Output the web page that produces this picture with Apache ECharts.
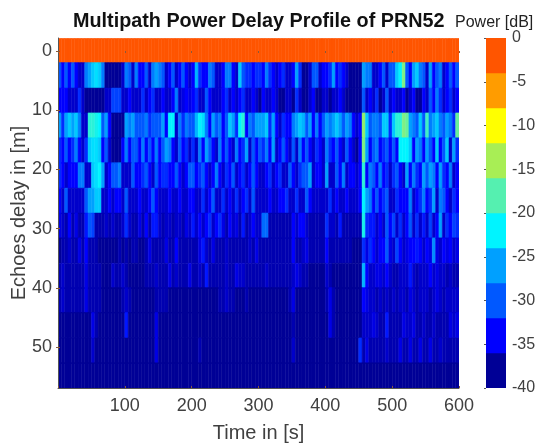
<!DOCTYPE html>
<html>
<head>
<meta charset="utf-8">
<script src="https://cdn.jsdelivr.net/npm/echarts@6/dist/echarts.min.js"></script>
<style>html,body{margin:0;padding:0;background:#fff}#c{width:540px;height:447px}</style>
</head>
<body>
<div id="c"></div>
<script>
// Column width of the profile, seconds; column centres start at half of it.
const stepSeconds = 5;
const rowSpanMetres = 4.3;
const rowDelays = [0,4.1,8.4,12.6,16.8,21,25.3,29.5,33.7,38,42.1,46.3,50.6,54.8];
const yTicks = [0,10,20,30,40,50];
const barTicks = [0,-5,-10,-15,-20,-25,-30,-35,-40];
const barBands = [-38,-34,-30,-26,-22,-18,-14,-10,-6,-2];
const bandColors = ['#000096','#0000ff','#0058ff','#00a0ff','#00f4ff','#55f0b0','#a8ee55','#ffff00','#ff9c00','#ff5500'];

const row0 = [
-2,-2,-2,-2,-2,-2,-2,-2,-2,-2,-2,-2,-2,-2,-2,-2,-2,-2,-2,-2,
-2,-2,-2,-2,-2,-2,-2,-2,-2,-2,-2,-2,-2,-2,-2,-2,-2,-2,-2,-2,
-2,-2,-2,-2,-2,-2,-2,-2,-2,-2,-2,-2,-2,-2,-2,-2,-2,-2,-2,-2,
-2,-2,-2,-2,-2,-2,-2,-2,-2,-2,-2,-2,-2,-2,-2,-2,-2,-2,-2,-2,
-2,-2,-2,-2,-2,-2,-2,-2,-2,-2,-2,-2,-2,-2,-2,-2,-2,-2,-2,-2,
-2,-2,-2,-2,-2,-2,-2,-2,-2,-2,-2,-2,-2,-2,-2,-2,-2,-2,-2,-2];
const row1 = [
-30,-34,-30,-34,-30,-34,-36,-36,-28,-26,-24,-23,-24,-28,-38,-38,-38,-38,-38,-36,
-28,-30,-36,-28,-34,-34,-30,-36,-28,-26,-28,-30,-36,-34,-30,-36,-34,-30,-34,-36,
-34,-25,-32,-34,-34,-28,-30,-36,-36,-34,-28,-28,-34,-36,-24,-30,-32,-32,-34,-32,
-32,-34,-28,-32,-34,-36,-34,-32,-36,-36,-34,-26,-32,-38,-38,-36,-30,-30,-36,-34,
-34,-32,-26,-34,-32,-34,-36,-38,-38,-38,-38,-26,-28,-28,-36,-36,-34,-30,-36,-30,
-30,-24,-22,-16,-30,-34,-26,-24,-28,-30,-36,-26,-34,-30,-28,-36,-34,-30,-34,-30];
const row2 = [
-34,-34,-34,-36,-36,-36,-32,-36,-38,-38,-38,-38,-38,-38,-36,-36,-31,-31,-31,-36,
-36,-34,-36,-36,-36,-32,-36,-34,-32,-36,-36,-34,-36,-36,-34,-28,-36,-35,-34,-35,
-34,-32,-36,-36,-30,-34,-36,-36,-36,-34,-32,-36,-34,-36,-34,-32,-36,-36,-34,-36,
-38,-34,-36,-36,-34,-36,-38,-38,-36,-36,-38,-32,-36,-38,-38,-36,-34,-38,-38,-36,
-36,-38,-36,-36,-34,-36,-38,-38,-38,-38,-38,-30,-36,-34,-36,-32,-38,-36,-30,-36,
-34,-36,-36,-34,-38,-36,-34,-38,-38,-34,-36,-30,-34,-28,-32,-36,-34,-32,-36,-34];
const row3 = [
-26,-32,-26,-24,-26,-24,-28,-36,-36,-20,-20,-21,-22,-30,-26,-34,-38,-38,-38,-38,
-26,-28,-26,-30,-30,-30,-28,-32,-30,-30,-30,-26,-34,-22,-22,-36,-28,-32,-28,-30,
-30,-25,-22,-23,-28,-34,-26,-30,-28,-34,-30,-24,-26,-32,-22,-20,-34,-28,-30,-26,
-26,-26,-24,-32,-26,-34,-36,-32,-34,-34,-28,-26,-24,-25,-30,-26,-34,-28,-34,-30,
-26,-28,-26,-24,-26,-30,-26,-28,-34,-36,-34,-15,-24,-30,-28,-28,-30,-24,-24,-32,
-24,-20,-20,-16,-17,-26,-28,-30,-24,-30,-19,-28,-26,-24,-28,-30,-26,-28,-32,-17];
const row4 = [
-32,-34,-30,-34,-32,-28,-34,-36,-32,-24,-23,-23,-24,-34,-30,-36,-38,-38,-38,-34,
-28,-34,-30,-30,-34,-28,-34,-30,-34,-28,-34,-30,-26,-28,-34,-36,-30,-34,-32,-36,
-32,-36,-28,-34,-26,-30,-34,-36,-28,-34,-30,-34,-36,-28,-34,-32,-26,-36,-30,-34,
-30,-32,-28,-34,-26,-36,-34,-30,-34,-36,-30,-36,-28,-34,-30,-34,-36,-32,-34,-36,
-28,-32,-34,-30,-34,-36,-30,-34,-36,-38,-34,-16,-26,-34,-30,-28,-34,-32,-30,-34,
-30,-34,-22,-22,-22,-24,-34,-26,-28,-34,-26,-30,-34,-24,-34,-30,-24,-36,-26,-32];
const row5 = [
-32,-34,-36,-34,-34,-34,-28,-28,-36,-36,-24,-23,-22,-26,-36,-34,-30,-30,-28,-36,
-36,-36,-30,-34,-34,-32,-30,-34,-36,-30,-34,-32,-32,-34,-34,-30,-34,-36,-34,-30,
-30,-34,-32,-30,-34,-36,-34,-28,-34,-36,-32,-34,-30,-36,-34,-32,-36,-34,-30,-34,
-36,-36,-34,-32,-36,-34,-32,-36,-36,-30,-34,-36,-32,-30,-30,-26,-36,-34,-34,-36,
-26,-36,-36,-30,-34,-28,-36,-34,-34,-36,-34,-20,-34,-28,-30,-34,-28,-34,-32,-36,
-32,-30,-34,-36,-26,-34,-28,-32,-34,-26,-30,-26,-28,-34,-26,-32,-34,-28,-36,-34];
const row6 = [
-34,-36,-30,-36,-36,-36,-36,-36,-30,-26,-26,-24,-24,-36,-36,-34,-36,-34,-34,-36,
-30,-36,-36,-36,-34,-36,-36,-34,-30,-34,-36,-36,-36,-34,-36,-36,-34,-36,-36,-34,
-34,-36,-36,-32,-36,-34,-30,-36,-36,-32,-36,-34,-36,-32,-36,-34,-32,-36,-30,-36,
-36,-36,-36,-34,-36,-36,-34,-34,-32,-36,-36,-32,-36,-36,-30,-34,-36,-36,-36,-36,
-36,-32,-36,-34,-36,-36,-34,-36,-36,-36,-34,-22,-26,-28,-34,-30,-34,-32,-30,-36,
-36,-32,-34,-34,-34,-28,-36,-34,-32,-28,-34,-32,-26,-36,-28,-30,-34,-36,-32,-34];
const row7 = [
-35,-36,-37,-34,-37,-35,-37,-37,-33,-30,-31,-37,-37,-37,-36,-37,-36,-37,-37,-36,
-32,-36,-37,-37,-35,-37,-34,-37,-33,-33,-36,-37,-36,-36,-37,-36,-36,-37,-35,-36,
-33,-36,-34,-36,-34,-32,-36,-34,-32,-35,-37,-34,-36,-35,-37,-33,-37,-36,-34,-36,
-36,-29,-29,-37,-37,-37,-37,-37,-37,-37,-34,-36,-34,-34,-36,-37,-37,-37,-37,-37,
-32,-36,-36,-37,-33,-37,-37,-37,-37,-37,-37,-21,-32,-33,-33,-36,-34,-36,-30,-34,
-31,-36,-32,-36,-34,-30,-36,-32,-36,-33,-36,-31,-36,-34,-26,-36,-32,-34,-31,-32];
const row8 = [
-38,-37,-37,-36,-37,-37,-35,-37,-34,-37,-37,-37,-38,-38,-38,-38,-38,-38,-37,-38,
-37,-38,-37,-37,-38,-38,-37,-35,-37,-37,-37,-37,-35,-37,-37,-34,-37,-37,-37,-37,
-37,-37,-35,-33,-36,-37,-35,-37,-37,-37,-36,-37,-37,-37,-37,-37,-37,-36,-37,-35,
-37,-37,-37,-37,-37,-37,-37,-37,-37,-37,-34,-37,-37,-36,-35,-37,-37,-37,-37,-37,
-34,-37,-37,-37,-37,-37,-37,-37,-38,-38,-38,-32,-35,-32,-34,-36,-34,-34,-30,-35,
-36,-31,-34,-36,-35,-34,-34,-33,-34,-36,-34,-35,-27,-35,-36,-34,-35,-34,-36,-35];
const row9 = [
-37,-36,-37,-37,-37,-37,-37,-37,-35,-37,-37,-37,-37,-38,-38,-38,-36,-37,-37,-36,
-37,-38,-38,-38,-38,-38,-37,-37,-37,-36,-37,-37,-37,-35,-37,-36,-37,-37,-37,-35,
-37,-37,-36,-37,-33,-37,-37,-37,-37,-37,-36,-37,-37,-35,-36,-36,-37,-37,-37,-37,
-37,-37,-36,-37,-37,-37,-37,-37,-37,-37,-36,-35,-36,-37,-37,-38,-38,-38,-38,-38,
-36,-37,-38,-38,-38,-38,-38,-38,-38,-38,-38,-25,-34,-36,-36,-35,-35,-36,-34,-36,
-37,-37,-36,-36,-36,-33,-36,-37,-36,-36,-36,-34,-36,-35,-36,-36,-37,-36,-37,-37];
const row10 = [
-37,-36,-37,-37,-37,-37,-37,-37,-35,-37,-37,-37,-37,-38,-38,-38,-38,-38,-38,-37,
-36,-37,-38,-38,-38,-38,-38,-38,-38,-37,-37,-37,-37,-38,-38,-38,-38,-38,-38,-38,
-38,-38,-38,-38,-38,-38,-38,-38,-37,-37,-36,-37,-37,-38,-38,-38,-37,-38,-38,-38,
-38,-38,-38,-38,-38,-38,-38,-38,-38,-37,-35,-38,-38,-38,-38,-38,-38,-38,-38,-38,
-37,-35,-37,-38,-38,-38,-38,-38,-38,-38,-38,-34,-35,-36,-36,-37,-36,-37,-36,-37,
-36,-37,-36,-36,-37,-35,-36,-37,-36,-36,-36,-37,-36,-35,-36,-37,-36,-36,-36,-36];
const row11 = [
-38,-38,-38,-38,-38,-38,-38,-38,-38,-38,-35,-37,-38,-38,-38,-38,-38,-38,-38,-38,
-33,-38,-38,-38,-38,-38,-38,-38,-38,-35,-38,-38,-38,-38,-38,-38,-38,-38,-38,-38,
-38,-38,-38,-38,-38,-38,-38,-38,-38,-38,-38,-38,-38,-38,-38,-38,-38,-38,-38,-38,
-38,-38,-38,-38,-38,-38,-38,-38,-38,-38,-37,-38,-38,-38,-38,-38,-38,-38,-38,-38,
-38,-35,-37,-38,-38,-38,-38,-38,-38,-38,-38,-36,-36,-36,-35,-36,-37,-37,-33,-37,
-37,-37,-37,-35,-36,-36,-35,-37,-37,-36,-37,-37,-36,-37,-37,-37,-37,-35,-36,-35];
const row12 = [
-38,-38,-38,-38,-38,-38,-38,-38,-38,-38,-36,-38,-38,-38,-38,-38,-38,-38,-38,-38,
-38,-38,-38,-38,-38,-38,-38,-38,-38,-35,-38,-38,-38,-38,-38,-38,-38,-38,-38,-38,
-38,-38,-37,-38,-38,-38,-38,-38,-38,-38,-38,-38,-38,-38,-38,-38,-38,-38,-38,-38,
-38,-38,-38,-38,-38,-38,-38,-38,-38,-38,-36,-38,-38,-38,-38,-38,-38,-38,-38,-38,
-38,-38,-38,-38,-38,-38,-38,-38,-38,-38,-32,-37,-35,-37,-37,-37,-37,-37,-36,-37,
-37,-37,-35,-37,-37,-35,-37,-37,-35,-37,-37,-35,-37,-37,-36,-37,-37,-37,-37,-37];
const row13 = [
-38,-38,-38,-38,-38,-38,-38,-38,-38,-38,-38,-38,-38,-38,-38,-38,-38,-38,-38,-38,
-38,-38,-38,-38,-38,-38,-38,-38,-38,-38,-38,-38,-38,-38,-38,-38,-38,-38,-38,-38,
-38,-38,-38,-38,-38,-38,-38,-38,-38,-38,-38,-38,-38,-38,-38,-38,-38,-38,-38,-38,
-38,-38,-38,-38,-38,-38,-38,-38,-38,-38,-38,-38,-38,-38,-38,-38,-38,-38,-38,-38,
-38,-38,-38,-38,-38,-38,-38,-38,-38,-38,-38,-38,-38,-38,-38,-38,-38,-38,-38,-38,
-38,-38,-38,-38,-38,-38,-38,-38,-38,-38,-38,-38,-38,-38,-38,-38,-38,-38,-38,-38];

const rows = [row0,row1,row2,row3,row4,row5,row6,row7,row8,row9,row10,row11,row12,row13];
const cells = [];
rows.forEach((r, ri) => r.forEach((p, ci) => cells.push([(ci + 0.5) * stepSeconds, rowDelays[ri], p])));
const barCells = barBands.map(b => [0.5, b, b]);

const labelColor = '#404040', lineColor = '#555';
const font = '"Liberation Sans", Arial, sans-serif';
const innerTick = { show: true, inside: true, length: 2, lineStyle: { color: '#8a5a3a', width: 1 } };

function cellRenderer(w, h) {
  return function (params, api) {
    const c = api.coord([api.value(0), api.value(1)]);
    const s = api.size([w, h]);
    const col = api.visual('color');
    return { type: 'rect', shape: { x: c[0] - s[0] / 2, y: c[1] - s[1] / 2, width: s[0], height: s[1] },
      style: { fill: col, stroke: col, lineWidth: 0.5 } };
  };
}

const chart = echarts.init(document.getElementById('c'), null, { renderer: 'canvas' });
chart.setOption({
  animation: false,
  backgroundColor: '#fff',
  title: [
    { text: 'Multipath Power Delay Profile of PRN52', left: 68, top: 7,
      textStyle: { fontFamily: font, fontSize: 19.8, fontWeight: 'bold', color: '#111' } },
    { text: 'Power [dB]', left: 450, top: 10,
      textStyle: { fontFamily: font, fontSize: 16, fontWeight: 'normal', color: '#222' } }
  ],
  grid: [
    { left: 58, top: 38, width: 401, height: 350, outerBoundsMode: 'none' },
    { left: 486, top: 38, width: 20, height: 350, outerBoundsMode: 'none' }
  ],
  visualMap: { type: 'continuous', show: false, min: -38, max: -2, dimension: 2, seriesIndex: [0, 1],
    inRange: { color: bandColors } },
  xAxis: [
    { gridIndex: 0, type: 'value', min: 0, max: 600, interval: 100, position: 'bottom', z: 5,
      name: 'Time in [s]', nameLocation: 'middle', nameGap: 35,
      nameTextStyle: { fontFamily: font, fontSize: 20, color: labelColor },
      axisLine: { show: true, onZero: false, lineStyle: { color: lineColor, width: 1 } },
      axisTick: innerTick,
      splitLine: { show: false },
      axisLabel: { fontFamily: font, fontSize: 18, color: labelColor, margin: 9,
        formatter: v => (v === 0 ? '' : String(v)) } },
    { gridIndex: 1, type: 'value', min: 0, max: 1, show: false },
    { gridIndex: 0, type: 'value', min: 0, max: 600, interval: 100, position: 'top', z: 5,
      axisLine: { show: false }, axisTick: innerTick, axisLabel: { show: false }, splitLine: { show: false } }
  ],
  yAxis: [
    { gridIndex: 0, type: 'value', inverse: true, min: -2.2, max: 56.9, z: 5,
      name: 'Echoes delay in [m]', nameLocation: 'middle', nameGap: 29, nameRotate: 90, nameMoveOverlap: false,
      nameTextStyle: { fontFamily: font, fontSize: 20, color: labelColor },
      axisLine: { show: true, onZero: false, lineStyle: { color: lineColor, width: 1 } },
      axisTick: Object.assign({ customValues: yTicks }, innerTick),
      splitLine: { show: false },
      axisLabel: { fontFamily: font, fontSize: 18, color: labelColor, margin: 6, customValues: yTicks } },
    { gridIndex: 1, type: 'value', min: -40, max: 0, interval: 5, position: 'right', z: 5,
      axisLine: { show: false },
      axisTick: Object.assign({ customValues: barTicks }, innerTick, { lineStyle: { color: lineColor, width: 1 } }),
      splitLine: { show: false },
      axisLabel: { fontFamily: font, fontSize: 16, color: labelColor, margin: 6, customValues: barTicks } },
    { gridIndex: 0, type: 'value', inverse: true, min: -2.2, max: 56.9, position: 'right', z: 5,
      axisLine: { show: false },
      axisTick: Object.assign({ customValues: yTicks }, innerTick),
      axisLabel: { show: false }, splitLine: { show: false } }
  ],
  series: [
    { type: 'custom', xAxisIndex: 0, yAxisIndex: 0, coordinateSystem: 'cartesian2d', z: 2,
      renderItem: cellRenderer(stepSeconds, rowSpanMetres), data: cells,
      encode: { x: 0, y: 1 }, clip: true, silent: true, progressive: 0 },
    { type: 'custom', xAxisIndex: 1, yAxisIndex: 1, coordinateSystem: 'cartesian2d', z: 2,
      renderItem: cellRenderer(1, 4), data: barCells,
      encode: { x: 0, y: 1 }, clip: true, silent: true }
  ]
});
</script>
</body>
</html>
